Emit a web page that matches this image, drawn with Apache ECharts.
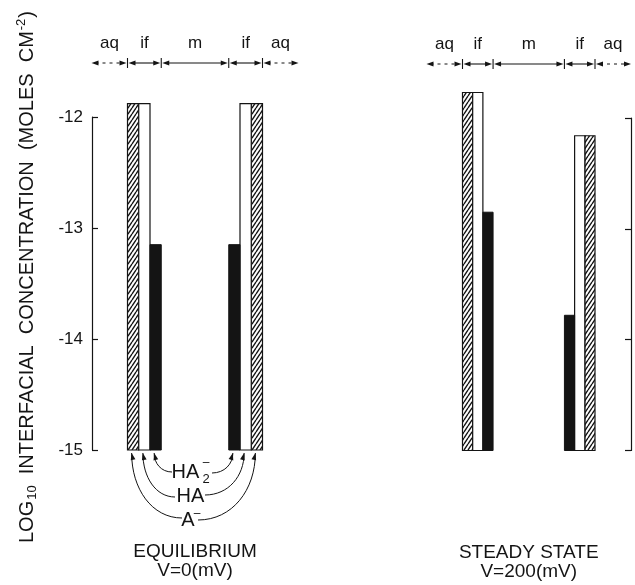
<!DOCTYPE html>
<html>
<head>
<meta charset="utf-8">
<script src="https://cdn.jsdelivr.net/npm/echarts@6/dist/echarts.min.js"></script>
<style>
  html, body { margin: 0; padding: 0; background: #fff; }
  #chart { width: 635px; height: 585px; }
</style>
</head>
<body>
<div id="chart"></div>
<script>
// Species adsorbed at each interface, listed from the aqueous side inwards
const species = ['A⁻', 'HA', 'HA₂⁻'];
// log10 interfacial concentration (mol cm⁻²), ordered as in `species`
const eqLeft = [-11.88, -11.88, -13.15];
const eqRight = [-11.88, -11.88, -13.15];
const ssLeft = [-11.77, -11.77, -12.85];
const ssRight = [-12.16, -12.16, -13.78];
// Axis ticks
const yTicks = [-15, -14, -13, -12];
// Zones across the membrane, left to right
const zoneLabels = ['aq', 'if', 'm', 'if', 'aq'];
const panelTitles = [['EQUILIBRIUM', 'V=0(mV)'], ['STEADY STATE', 'V=200(mV)']];
// Empty slots standing for the membrane interior in each panel
const membraneSlots = [6, 7];

const FONT = '"Liberation Sans", Arial, sans-serif';
const INK = '#141414';

const panels = [
  { left: eqLeft, right: eqRight, gap: membraneSlots[0], title: panelTitles[0] },
  { left: ssLeft, right: ssRight, gap: membraneSlots[1], title: panelTitles[1] }
];

// Diagonal hatching used for A⁻
function hatchPattern() {
  const w = 4, h = 6;
  const c = document.createElement('canvas');
  c.width = w; c.height = h;
  const g = c.getContext('2d');
  g.fillStyle = '#fff';
  g.fillRect(0, 0, w, h);
  g.strokeStyle = INK;
  g.lineWidth = 1.4;
  g.beginPath();
  [-w, 0, w].forEach(k => { g.moveTo(k, h); g.lineTo(k + w, 0); });
  g.stroke();
  return { image: c, repeat: 'repeat' };
}

const fills = [
  { fill: hatchPattern(), stroke: INK, lineWidth: 1.2 },
  { fill: '#fff', stroke: INK, lineWidth: 1.2 },
  { fill: INK, stroke: INK, lineWidth: 1 }
];

function slotCount(p) { return 6 + p.gap; }

function slotNames(p) {
  const n = slotCount(p);
  return Array.from({ length: n }, (_, i) =>
    i < 3 ? 'if1 ' + species[i] : i >= n - 3 ? 'if2 ' + species[n - 1 - i] : 'm' + (i - 2));
}

function slotData(p) {
  const n = slotCount(p);
  const rows = [];
  p.left.forEach((v, s) => rows.push([s, v, s]));
  p.right.forEach((v, s) => rows.push([n - 1 - s, v, s]));
  return rows;
}

const grids = [
  { left: 127.5, top: 117, width: 135, height: 333, outerBoundsMode: 'none' },
  { left: 462.5, top: 118, width: 132.5, height: 332.5, outerBoundsMode: 'none' }
];

const chart = echarts.init(document.getElementById('chart'));

const option = {
  backgroundColor: '#fff',
  animation: false,
  grid: grids,
  xAxis: panels.map((p, g) => ({
    type: 'category', gridIndex: g, data: slotNames(p), show: false
  })),
  yAxis: panels.map((p, g) => ({
    type: 'value',
    gridIndex: g,
    position: g === 0 ? 'left' : 'right',
    offset: g === 0 ? 35.5 : 36,
    min: yTicks[0],
    max: yTicks[yTicks.length - 1],
    interval: 1,
    splitLine: { show: false },
    axisLine: { show: true, lineStyle: { color: INK, width: 1.2 } },
    axisTick: { show: true, inside: true, length: 6, lineStyle: { color: INK, width: 1.2 } },
    axisLabel: {
      show: g === 0, margin: 9, color: INK, fontSize: 17, fontFamily: FONT,
      formatter: v => String(v)
    }
  })),
  series: panels.map((p, g) => ({
    type: 'custom',
    xAxisIndex: g,
    yAxisIndex: g,
    clip: false,
    data: slotData(p),
    renderItem(params, api) {
      const i = api.value(0), v = api.value(1), s = api.value(2);
      const top = api.coord([i, v]);
      const base = api.coord([i, yTicks[0]]);
      const w = api.size([1, 0])[0];
      return {
        type: 'rect',
        shape: { x: top[0] - w / 2, y: top[1], width: w, height: base[1] - top[1] },
        style: Object.assign({}, fills[s])
      };
    }
  }))
};

chart.setOption(option);

// ---- annotations: zone arrows, titles, species call-outs, axis title ----
function txt(x, y, str, size, extra) {
  return Object.assign({
    type: 'text', x, y, silent: true,
    style: {
      text: str, fill: INK, fontSize: size, fontFamily: FONT,
      font: size + 'px ' + FONT,
      align: 'center', verticalAlign: 'middle',
      textAlign: 'center', textVerticalAlign: 'middle'
    }
  }, extra || {});
}
function seg(pts, dash) {
  return {
    type: 'polyline', silent: true, shape: { points: pts },
    style: { stroke: INK, lineWidth: 1.1, fill: null, lineDash: dash || null }
  };
}
function head(tip, dir, len, half) {
  const L = len || 7, W = half || 2.6;
  const d = Math.hypot(dir[0], dir[1]);
  const dx = dir[0] / d, dy = dir[1] / d;
  const bx = tip[0] - dx * L, by = tip[1] - dy * L;
  return {
    type: 'polygon', silent: true,
    shape: { points: [tip, [bx - dy * W, by + dx * W], [bx + dy * W, by - dx * W]] },
    style: { fill: INK }
  };
}

function annotations() {
  const els = [];
  panels.forEach((p, g) => {
    const n = slotCount(p);
    const a = chart.convertToPixel({ gridIndex: g }, [0, yTicks[yTicks.length - 1]]);
    const b = chart.convertToPixel({ gridIndex: g }, [1, yTicks[0]]);
    const step = b[0] - a[0];
    const x0 = a[0] - step / 2;
    const yTop = a[1], yBase = b[1];
    const bounds = [x0, x0 + 3 * step, x0 + (3 + p.gap) * step, x0 + n * step];
    const aq = 36;
    const edges = [bounds[0] - aq].concat(bounds, [bounds[3] + aq]);
    const rowY = yTop - 54;

    // zone dimension arrows
    for (let i = 0; i < 5; i++) {
      const xa = edges[i] + (i === 0 ? 0 : 1), xb = edges[i + 1] - (i === 4 ? 0 : 1);
      const dashed = i === 0 || i === 4;
      els.push(seg([[xa + 4, rowY], [xb - 4, rowY]], dashed ? [3, 4] : null));
      els.push(head([xa, rowY], [-1, 0], 7, 2.4));
      els.push(head([xb, rowY], [1, 0], 7, 2.4));
      els.push(txt((edges[i] + edges[i + 1]) / 2, rowY - 20, zoneLabels[i], 17));
    }
    bounds.forEach(x => els.push(seg([[x, rowY - 5], [x, rowY + 5]])));

    // panel captions
    const cx = (bounds[0] + bounds[3]) / 2;
    els.push(txt(cx, yBase + 102, p.title[0], 19));
    els.push(txt(cx, yBase + 121, p.title[1], 19));

    // species call-outs under the equilibrium panel
    if (g === 0) {
      const ends = [
        { l: [cx - 13, yBase + 68], r: [cx + 3, yBase + 70] },   // A⁻
        { l: [cx - 20, yBase + 47], r: [cx + 10, yBase + 45] },  // HA
        { l: [cx - 23, yBase + 22], r: [cx + 17, yBase + 23] }   // HA₂⁻
      ];
      species.forEach((sp, s) => {
        const tips = [
          [x0 + (s + 0.5) * step - 1.5, yBase + 3],
          [x0 + (n - 1 - s + 0.5) * step - 1.5, yBase + 3]
        ];
        [ends[s].l, ends[s].r].forEach((P0, k) => {
          const P3 = tips[k];
          const dx = P3[0] - P0[0], dy = P3[1] - P0[1];
          const c1 = [P0[0] + 0.6 * dx, P0[1]];
          const c2 = [P3[0], P3[1] - 0.55 * dy];
          els.push({
            type: 'bezierCurve', silent: true,
            shape: { x1: P0[0], y1: P0[1], cpx1: c1[0], cpy1: c1[1], cpx2: c2[0], cpy2: c2[1], x2: P3[0], y2: P3[1] },
            style: { stroke: INK, lineWidth: 1, fill: null }
          });
          els.push(head(P3, [P3[0] - c2[0] + 0.15 * dx, P3[1] - c2[1]], 7, 2.4));
        });
      });
      // labels
      els.push(txt(cx - 7, yBase + 70, 'A', 20));
      els.push(txt(cx + 2, yBase + 64, '–', 12));
      els.push(txt(cx - 4.5, yBase + 46.5, 'HA', 20));
      els.push(txt(cx - 9.5, yBase + 22, 'HA', 20));
      els.push(txt(cx + 11, yBase + 29, '2', 13));
      els.push(txt(cx + 11, yBase + 13, '–', 12));
    }
  });

  // rotated y-axis title
  els.push({
    type: 'text', silent: true, x: 27, y: 277, rotation: Math.PI / 2,
    style: {
      text: '{t|LOG}{s|10}{t|  INTERFACIAL  CONCENTRATION  (MOLES  CM}{p|-2}{t|)}',
      align: 'center', verticalAlign: 'middle',
      textAlign: 'center', textVerticalAlign: 'middle',
      fill: INK,
      rich: {
        t: { fontSize: 20, fontFamily: FONT, fill: INK, lineHeight: 28, verticalAlign: 'middle' },
        s: { fontSize: 13, fontFamily: FONT, fill: INK, lineHeight: 28, verticalAlign: 'bottom', padding: [0, 0, 2, 1] },
        p: { fontSize: 13, fontFamily: FONT, fill: INK, lineHeight: 28, verticalAlign: 'top', padding: [2, 1, 0, 1] }
      }
    }
  });
  return els;
}

chart.setOption({ graphic: { elements: annotations() } });
</script>
</body>
</html>
